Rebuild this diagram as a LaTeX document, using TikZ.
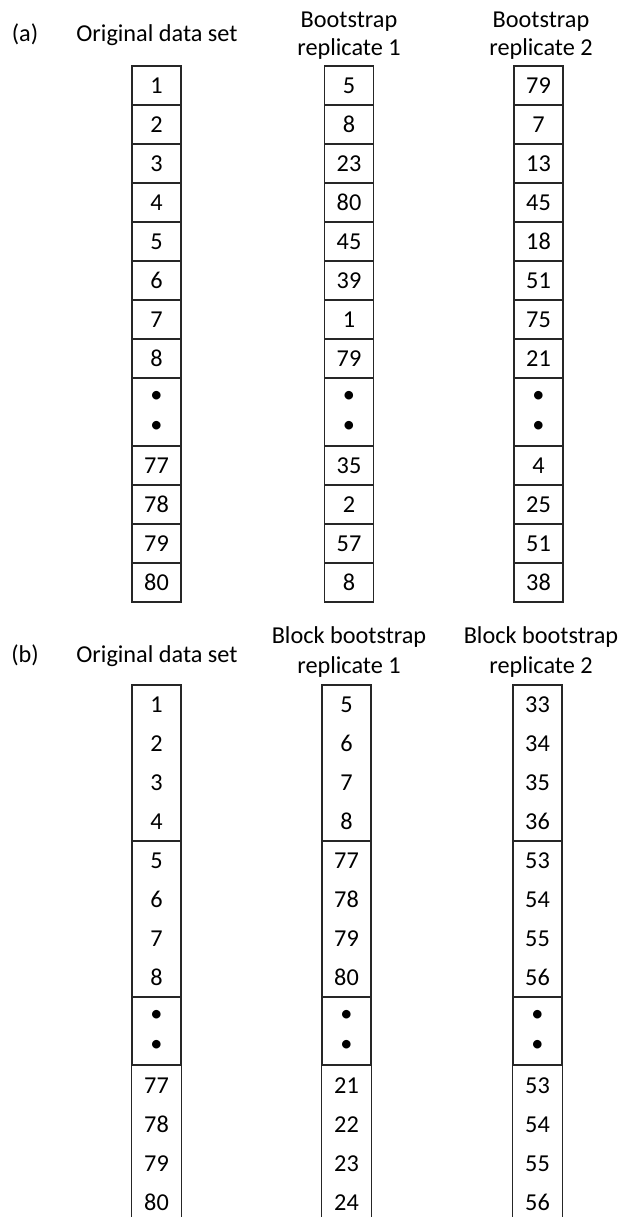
\documentclass[tikz,border=0pt]{standalone}
\usepackage{fontspec}
\setmainfont{Carlito}
\begin{document}
\begin{tikzpicture}[x=0.75pt,y=-0.75pt,
  every node/.style={font=\fontsize{18.2}{21.5}\selectfont, inner sep=0pt},
  cell/.style={draw=black!85, line width=0.8pt, minimum width=36.75pt, minimum height=29.25pt},
  dotcell/.style={draw=black!85, line width=0.8pt, minimum width=36.75pt, minimum height=51pt, align=center, font=\fontsize{18.2}{22.5}\selectfont},
  block/.style={draw=black!85, line width=0.8pt, minimum width=36.75pt, minimum height=117pt},
  lab/.style={anchor=base},
  rule/.style={draw=black!85, line width=0.8pt}]
\useasboundingbox (0,0) rectangle (628,1217);
\coordinate (bot) at (0,1217);

% ---- panel (a) labels
\node[lab] (la) at (25,41) {(a)};
\node[lab] (la1) at (157,41) {Original data set};
\node[lab] (la2a) at (349,27) {Bootstrap};
\node[lab] (la2b) at (349,55) {replicate 1};
\node[lab] (la3a) at (541,27) {Bootstrap};
\node[lab] (la3b) at (541,55) {replicate 2};

% ---- panel (a) columns
\foreach \c/\x/\vals in {1/156.5/{1,2,3,4,5,6,7,8,77,78,79,80},
                         2/349/{5,8,23,80,45,39,1,79,35,2,57,8},
                         3/538.5/{79,7,13,45,18,51,75,21,4,25,51,38}} {
  \foreach \v [count=\i] in \vals {
    \pgfmathsetmacro\yy{\i<9 ? 66+(\i-0.5)*39 : 446+(\i-8.5)*39}
    \node[cell] (a\c-\i) at (\x,\yy) {\v};
  }
  \node[dotcell] (a\c-d) at (\x,412) {\textbullet\\\textbullet};
}

% ---- panel (b) labels
\node[lab] (lb) at (25,662) {(b)};
\node[lab] (lb1) at (157,662) {Original data set};
\node[lab] (lb2a) at (349,643) {Block bootstrap};
\node[lab] (lb2b) at (349,673) {replicate 1};
\node[lab] (lb3a) at (541,643) {Block bootstrap};
\node[lab] (lb3b) at (541,673) {replicate 2};

% ---- panel (b) columns
\foreach \c/\x/\vals in {1/156.5/{1,2,3,4,5,6,7,8,77,78,79,80},
                         2/346.5/{5,6,7,8,77,78,79,80,21,22,23,24},
                         3/537.5/{33,34,35,36,53,54,55,56,53,54,55,56}} {
  \node[block] (b\c-k1) at (\x,763) {};
  \node[block] (b\c-k2) at (\x,919) {};
  \node[dotcell] (b\c-d) at (\x,1031) {\textbullet\\\textbullet};
  \draw[rule] (b\c-d.south west) -- (b\c-d.south west |- bot);
  \draw[rule] (b\c-d.south east) -- (b\c-d.south east |- bot);
  \foreach \v [count=\i] in \vals {
    \pgfmathsetmacro\yy{\i<9 ? 685+(\i-0.5)*39 : 1066+(\i-8.5)*39}
    \node (b\c-\i) at (\x,\yy) {\v};
  }
}
\end{tikzpicture}
\end{document}
